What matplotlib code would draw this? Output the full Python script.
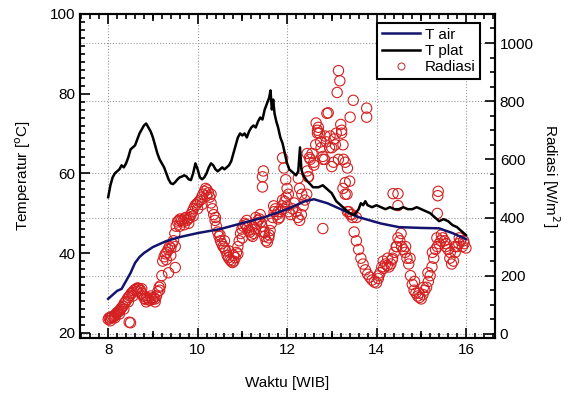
import numpy as np
import matplotlib.pyplot as plt
from matplotlib.ticker import MultipleLocator
from matplotlib.lines import Line2D

plt.rcParams['font.family'] = ['Liberation Sans', 'DejaVu Sans']
plt.rcParams['font.size'] = 11

# T air (garis biru)
t_air_jam = [8.0, 8.1, 8.2, 8.3, 8.4, 8.5, 8.6, 8.7, 8.8, 9.0, 9.3, 9.6, 10.0, 10.5,
             11.0, 11.5, 12.0, 12.4, 12.6, 12.9, 13.2, 13.6, 14.1, 14.5, 15.0, 15.4,
             15.7, 16.0]
t_air = [28.5, 29.5, 30.5, 31.0, 33.0, 35.0, 37.5, 39.0, 40.0, 41.5, 43.0, 44.0, 45.0,
         46.0, 47.5, 49.0, 51.0, 53.0, 53.5, 52.5, 51.0, 49.0, 47.4, 46.5, 46.3, 46.2,
         45.0, 43.5]

# T plat (garis hitam)
t_plat_jam = [8.00, 8.05, 8.10, 8.15, 8.20, 8.25, 8.30, 8.35, 8.40, 8.45, 8.50, 8.55,
              8.60, 8.65, 8.70, 8.75, 8.80, 8.85, 8.90, 8.95, 9.00, 9.05, 9.10, 9.15,
              9.20, 9.25, 9.30, 9.35, 9.40, 9.45, 9.50, 9.55, 9.60, 9.65, 9.70, 9.75,
              9.80, 9.85, 9.90, 9.95, 10.00, 10.05, 10.10, 10.15, 10.20, 10.25, 10.30,
              10.35, 10.40, 10.45, 10.50, 10.55, 10.60, 10.65, 10.70, 10.75, 10.80,
              10.85, 10.90, 10.95, 11.00, 11.05, 11.10, 11.15, 11.20, 11.25, 11.30,
              11.35, 11.40, 11.45, 11.50, 11.55, 11.60, 11.63, 11.66, 11.69, 11.72,
              11.76, 11.80, 11.85, 11.90, 11.95, 12.00, 12.05, 12.10, 12.15, 12.20,
              12.25, 12.29, 12.32, 12.36, 12.44, 12.50, 12.58, 12.70, 12.80, 12.90,
              13.00, 13.10, 13.20, 13.30, 13.40, 13.50, 13.60, 13.65, 13.70, 13.75,
              13.80, 13.90, 14.00, 14.10, 14.20, 14.30, 14.40, 14.50, 14.60, 14.70,
              14.80, 14.90, 15.00, 15.10, 15.20, 15.30, 15.40, 15.50, 15.60, 15.70,
              15.80, 15.90, 16.00]
t_plat = [54.0, 57.0, 59.0, 60.0, 60.5, 61.0, 62.0, 61.5, 62.5, 64.0, 66.0, 66.5,
          67.0, 68.5, 70.0, 71.0, 72.0, 72.5, 71.5, 70.5, 69.0, 67.0, 65.0, 63.5,
          62.5, 61.5, 60.0, 58.5, 57.5, 57.3, 57.8, 58.5, 59.0, 59.2, 59.5, 59.2,
          58.5, 58.3, 60.0, 62.5, 61.0, 59.0, 58.5, 59.0, 60.0, 61.5, 62.5,
          62.0, 61.0, 60.5, 61.0, 61.5, 61.0, 61.5, 62.0, 63.0, 65.0,
          67.0, 69.0, 70.0, 69.5, 70.0, 69.0, 70.5, 71.5, 72.0, 71.5,
          73.0, 74.0, 73.5, 76.0, 77.5, 79.0, 80.8, 76.0, 78.5, 75.0,
          73.0, 71.5, 69.0, 67.5, 65.0, 62.5, 61.0, 60.5, 60.0, 59.5,
          60.5, 66.5, 61.0, 59.5, 58.2, 57.5, 56.5, 56.5, 57.0, 56.0,
          55.0, 53.0, 52.0, 51.0, 50.0, 49.5, 51.0, 52.5, 52.0, 53.0,
          52.0, 51.5, 52.0, 51.5, 51.0, 51.5, 51.0, 51.0, 51.5, 51.0,
          51.0, 51.5, 51.0, 50.5, 50.0, 49.0, 48.0, 48.5, 48.0, 47.0,
          46.5, 45.5, 44.5]

# Radiasi (lingkaran merah) - deret utama
rad_jam = [8.00, 8.02, 8.04, 8.06, 8.08, 8.10, 8.12, 8.14, 8.16, 8.18, 8.20, 8.22,
           8.24, 8.26, 8.28, 8.30, 8.33, 8.36, 8.39, 8.42, 8.45, 8.48,
           8.51, 8.54, 8.57, 8.60, 8.63, 8.66, 8.69, 8.72, 8.75, 8.78, 8.81, 8.84,
           8.87, 8.90, 8.93, 8.96, 8.99, 9.02, 9.05, 9.08, 9.11, 9.14, 9.17, 9.20,
           9.22, 9.25, 9.28, 9.31, 9.34, 9.37, 9.40, 9.43, 9.46, 9.49, 9.52, 9.55,
           9.58, 9.61, 9.64, 9.67, 9.70, 9.73, 9.76, 9.79, 9.82, 9.85, 9.88, 9.91,
           9.94, 9.97, 10.00, 10.03, 10.06, 10.09, 10.12, 10.15, 10.18, 10.21, 10.24,
           10.27, 10.30, 10.33, 10.36, 10.39, 10.42, 10.45, 10.48, 10.51, 10.54,
           10.57, 10.60, 10.63, 10.66, 10.69, 10.72, 10.75, 10.78, 10.81, 10.84,
           10.87, 10.90, 10.93, 10.96, 10.99, 11.02, 11.05, 11.08, 11.11, 11.14,
           11.17, 11.20, 11.23, 11.26, 11.29, 11.32, 11.35, 11.38, 11.41, 11.44,
           11.47, 11.50, 11.53, 11.56, 11.59, 11.62, 11.65, 11.68, 11.71, 11.74,
           11.77, 11.80, 11.83, 11.86, 11.89, 11.92, 11.95, 11.98,
           12.00, 12.04, 12.08, 12.12, 12.16, 12.20, 12.24, 12.28, 12.32, 12.36,
           12.40, 12.44, 12.48, 12.52, 12.56, 12.60, 12.64, 12.68, 12.72, 12.76,
           12.80, 12.84, 12.88, 12.92, 12.96, 13.00, 13.04, 13.08, 13.12, 13.15,
           13.18, 13.22, 13.26, 13.30, 13.34, 13.38, 13.42, 13.46, 13.50, 13.55,
           13.60, 13.65, 13.70, 13.75, 13.80, 13.85, 13.90, 13.95, 14.00, 14.04,
           14.08, 14.12, 14.16, 14.20, 14.24, 14.28, 14.32, 14.36, 14.40, 14.44,
           14.48, 14.52, 14.56, 14.60, 14.64, 14.68, 14.72, 14.76, 14.80, 14.84,
           14.88, 14.92, 14.96, 15.00, 15.04, 15.08, 15.12, 15.16, 15.20, 15.24,
           15.28, 15.32, 15.36, 15.40, 15.44, 15.48, 15.52, 15.56, 15.60, 15.64,
           15.68, 15.72, 15.76, 15.80, 15.84, 15.88, 15.92, 15.96, 16.00]
rad = [50, 55, 52, 58, 55, 60, 58, 62, 65, 70, 72, 75,
       78, 80, 85, 90, 95, 105, 110, 118, 125, 130,
       138, 142, 148, 152, 155, 158, 155, 150, 140, 130, 122, 118,
       125, 120, 115, 122, 118, 125, 120, 130, 145, 160, 165, 200,
       250, 265, 275, 280, 290, 300, 295, 310, 320, 345, 370, 385,
       390, 395, 390, 385, 395, 400, 390, 395, 400, 410, 420, 430,
       440, 445, 450, 455, 460, 470, 480, 490, 500, 495, 485,
       470, 450, 430, 410, 390, 370, 350, 335, 320, 310,
       300, 295, 285, 270, 262, 255, 250, 245, 250, 262,
       280, 300, 320, 345, 360, 370, 380, 375, 365, 355,
       350, 340, 335, 345, 360, 380, 390, 395, 385, 370,
       350, 335, 320, 315, 330, 355, 380, 400, 420, 430,
       410, 395, 400, 420, 440, 430, 455, 470,
       440, 420, 410, 430, 450, 420, 400, 390, 410, 440,
       460, 480, 540, 600, 620, 580, 650, 700, 690, 640,
       610, 600, 660, 760, 680, 640, 590, 650, 830, 905,
       870, 700, 600, 520, 480, 420, 410, 400, 350, 320,
       290, 260, 240, 220, 205, 195, 185, 178, 175, 190,
       210, 230, 225, 240, 235, 230, 240, 260, 280, 300,
       330, 320, 300, 290, 280, 260, 240, 200, 170, 150,
       140, 130, 125, 120, 135, 150, 160, 180, 200, 230,
       260, 290, 300, 310, 320, 330, 320, 310, 290, 260,
       240, 250, 280, 300, 310, 320, 300, 310, 295]

# Radiasi - titik tepi pita dan pencilan
rad_tambah_jam = [8.05, 8.15, 8.25, 8.35, 8.45, 8.47, 8.50, 8.55, 8.65, 8.75, 8.85,
                  8.95, 9.05, 9.15, 9.30, 9.35, 9.40, 9.50, 9.50, 9.60, 9.70, 9.80,
                  9.90, 10.00, 10.10, 10.20, 10.30, 10.40, 10.50, 10.60, 10.70, 10.80,
                  10.90, 11.00, 11.10, 11.20, 11.30, 11.40, 11.45, 11.45, 11.47,
                  11.50, 11.60, 11.70, 11.80, 11.90, 11.90, 11.93, 11.97, 12.00,
                  12.03, 12.25, 12.28, 12.33, 12.45, 12.47, 12.45, 12.50, 12.65,
                  12.68, 12.70, 12.89, 12.75, 12.85, 12.95, 13.05, 13.10, 13.20,
                  13.22, 13.25, 12.60, 12.80, 13.00, 13.15, 13.30, 13.35, 13.25,
                  13.30, 13.40, 13.41, 13.48, 13.78, 13.78, 12.80, 13.35, 13.45,
                  13.55, 14.05, 14.15, 14.25, 14.35, 14.37, 14.45, 14.48, 14.48,
                  14.55, 14.65, 14.75, 14.85, 14.95, 15.05, 15.15, 15.25, 15.35,
                  15.36, 15.37, 15.38, 15.45, 15.55, 15.65, 15.75, 15.85, 15.95]
rad_tambah = [45, 55, 68, 85, 110, 40, 38, 130, 145, 155, 110,
              130, 110, 150, 255, 210, 270, 300, 228, 370, 375, 380,
              405, 430, 445, 475, 480, 400, 340, 320, 285, 270,
              275, 330, 390, 360, 400, 410, 505, 540, 560,
              350, 340, 440, 420, 460, 605, 570, 530, 500,
              480, 535, 500, 480, 560, 540, 620, 606, 725,
              690, 710, 758, 660, 680, 640, 670, 690, 720,
              690, 650, 590, 600, 575, 600, 590, 570, 500,
              480, 525, 745, 803, 745, 776, 362, 420, 410,
              400, 200, 250, 260, 255, 482, 300, 482, 441,
              345, 300, 260, 180, 140, 160, 210, 280, 330,
              414, 475, 490, 340, 300, 280, 300, 330, 320]

fig = plt.figure(figsize=(5.81, 3.98), dpi=100)
ax = fig.add_axes([0.1377, 0.151, 0.7143, 0.814])
ax2 = ax.twinx()

ax2.scatter(rad_jam + rad_tambah_jam, rad + rad_tambah, s=55, facecolors='none',
            edgecolors='#d42020', linewidths=0.8, zorder=3)
ax.plot(t_air_jam, t_air, color='#14146e', lw=1.8, zorder=4)
ax.plot(t_plat_jam, t_plat, color='black', lw=1.8, zorder=4)

ax.set_zorder(ax2.get_zorder() + 1)
ax.patch.set_visible(False)

ax.set_xlim(7.37, 16.65)
ax.set_ylim(18.7, 100)
ax2.set_ylim(-14, 1100)

ax.xaxis.set_major_locator(MultipleLocator(2))
ax.xaxis.set_minor_locator(MultipleLocator(0.2))
ax.yaxis.set_major_locator(MultipleLocator(20))
ax.yaxis.set_minor_locator(MultipleLocator(2))
ax2.yaxis.set_major_locator(MultipleLocator(200))
ax2.yaxis.set_minor_locator(MultipleLocator(50))

ax.tick_params(which='both', direction='in', top=True, right=False, width=1.2)
ax.tick_params(which='major', length=7)
ax.tick_params(which='minor', length=3.5)
ax2.tick_params(which='both', direction='in', width=1.2)
ax2.tick_params(which='major', length=7)
ax2.tick_params(which='minor', length=3.5)
for a in (ax, ax2):
    for sp in a.spines.values():
        sp.set_linewidth(1.5)

# tick sedang pada jam ganjil
for pos in ('bottom', 'top'):
    sec = ax.secondary_xaxis(pos)
    sec.set_xticks([9, 11, 13, 15])
    sec.tick_params(direction='in', length=5, width=1.2, labelbottom=False,
                    labeltop=False)
    sec.spines[pos].set_visible(False)

# garis grid
ax.grid(axis='x', which='major', linestyle=':', color='#999999', lw=0.8)
for v in [0, 200, 400, 800, 1000]:
    ax2.axhline(v, linestyle=':', color='#999999', lw=0.8, zorder=0)
ax.axhline(60, linestyle=':', color='#999999', lw=0.8, zorder=0)

ax.set_xlabel('Waktu [WIB]', labelpad=14)
ax.set_ylabel('Temperatur [$^{\\mathrm{o}}$C]', labelpad=12)
ax2.set_ylabel('Radiasi [W/m$^{2}$]', rotation=270, labelpad=20)

handles = [Line2D([], [], color='#14146e', lw=1.8),
           Line2D([], [], color='black', lw=1.8),
           Line2D([], [], ls='none', marker='o', mfc='none', mec='#c04040',
                  ms=5, mew=0.8)]
leg = ax.legend(handles, ['T air', 'T plat', 'Radiasi'], loc='upper right',
                bbox_to_anchor=(0.826, 0.942), bbox_transform=fig.transFigure,
                fancybox=False, framealpha=1, edgecolor='black',
                borderpad=0.3, labelspacing=0.15, handlelength=2.5,
                handletextpad=0.3, borderaxespad=0)
leg.get_frame().set_linewidth(1.5)

fig.savefig('out.png', dpi=100)
